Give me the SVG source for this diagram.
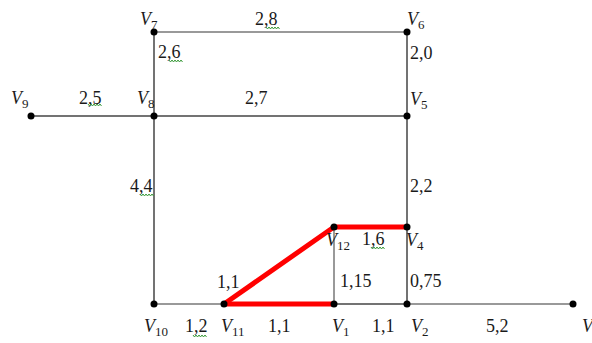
<svg xmlns="http://www.w3.org/2000/svg" width="592" height="343" viewBox="0 0 592 343">
<style>
.e{stroke:#444;stroke-width:1.5;fill:none}
.g{stroke:#777;stroke-width:1.5;fill:none}
.r{stroke:#ff0000;stroke-width:5;fill:none;stroke-linecap:round}
.d{fill:#000}
text{font-family:"Liberation Serif","Times New Roman",serif;font-size:18px;fill:#1a1a1a}
.v{font-style:italic}
.s{font-size:13px;font-style:normal}
.w{stroke:#3a9a3a;stroke-width:1;fill:none}
</style>
<defs>
<path id="sq" d="M0,0 l1.5,2 l1.5,-2 l1.5,2 l1.5,-2 l1.5,2 l1.5,-2 l1.5,2 l1.5,-2 l1.5,2"/>
</defs>
<g id="connectors">
<line class="g" x1="154" y1="32" x2="407" y2="32"/>
<line class="e" x1="154" y1="32" x2="154" y2="116"/>
<line class="e" x1="407" y1="32" x2="407" y2="116"/>
<line class="e" x1="31" y1="116" x2="154" y2="116"/>
<line class="e" x1="154" y1="116" x2="407" y2="116"/>
<line class="e" x1="154" y1="116" x2="154" y2="304"/>
<line class="e" x1="407" y1="116" x2="407" y2="304"/>
<line class="g" x1="154" y1="304" x2="224" y2="304"/>
<line class="g" x1="334" y1="227" x2="334" y2="304"/>
<line class="e" x1="334" y1="304" x2="407" y2="304"/>
<line class="g" x1="407" y1="304" x2="573" y2="304"/>
<line class="r" x1="224" y1="304" x2="334" y2="304"/>
<line class="r" x1="224" y1="304" x2="334" y2="227"/>
<line class="r" x1="334" y1="227" x2="407" y2="227"/>
</g>
<g id="labels">
<text x="255" y="25">2,8</text>
<text x="158" y="58">2,6</text>
<text x="410" y="59">2,0</text>
<text x="79" y="104">2,5</text>
<text x="245" y="104">2,7</text>
<text x="410" y="192">2,2</text>
<text x="130" y="192">4,4</text>
<text x="362" y="245">1,6</text>
<text x="340" y="287">1,15</text>
<text x="410" y="287">0,75</text>
<text x="217" y="288">1,1</text>
<text x="185" y="332">1,2</text>
<text x="268" y="332">1,1</text>
<text x="372" y="332">1,1</text>
<text x="486" y="332">5,2</text>
<use href="#sq" class="w" x="266" y="27"/>
<use href="#sq" class="w" x="169" y="60"/>
<use href="#sq" class="w" x="88" y="104"/>
<use href="#sq" class="w" x="140" y="194"/>
<use href="#sq" class="w" x="193" y="335"/>
<use href="#sq" class="w" x="371" y="247"/>
</g>
<g id="V7"><circle class="d" cx="154" cy="32" r="3.5"/><text class="v" x="140" y="25">V<tspan class="s" dy="4">7</tspan></text></g>
<g id="V6"><circle class="d" cx="407" cy="32" r="3.5"/><text class="v" x="407" y="25">V<tspan class="s" dy="4">6</tspan></text></g>
<g id="V9"><circle class="d" cx="31" cy="116" r="3.5"/><text class="v" x="11" y="104">V<tspan class="s" dy="4">9</tspan></text></g>
<g id="V8"><circle class="d" cx="154" cy="116" r="3.5"/><text class="v" x="137" y="104">V<tspan class="s" dy="4">8</tspan></text></g>
<g id="V5"><circle class="d" cx="407" cy="116" r="3.5"/><text class="v" x="410" y="105">V<tspan class="s" dy="4">5</tspan></text></g>
<g id="V12"><circle class="d" cx="334" cy="227" r="3.5"/><text class="v" x="326" y="246">V<tspan class="s" dy="4">12</tspan></text></g>
<g id="V4"><circle class="d" cx="407" cy="227" r="3.5"/><text class="v" x="406" y="246">V<tspan class="s" dy="4">4</tspan></text></g>
<g id="V10"><circle class="d" cx="154" cy="304" r="3.5"/><text class="v" x="144" y="332">V<tspan class="s" dy="4">10</tspan></text></g>
<g id="V11"><circle class="d" cx="224" cy="304" r="3.5"/><text class="v" x="221" y="332">V<tspan class="s" dy="4">11</tspan></text></g>
<g id="V1"><circle class="d" cx="334" cy="304" r="3.5"/><text class="v" x="332" y="332">V<tspan class="s" dy="4">1</tspan></text></g>
<g id="V2"><circle class="d" cx="407" cy="304" r="3.5"/><text class="v" x="411" y="332">V<tspan class="s" dy="4">2</tspan></text></g>
<g id="V3"><circle class="d" cx="573" cy="304" r="3.5"/><text class="v" x="582" y="332">V<tspan class="s" dy="4">3</tspan></text></g>
</svg>
